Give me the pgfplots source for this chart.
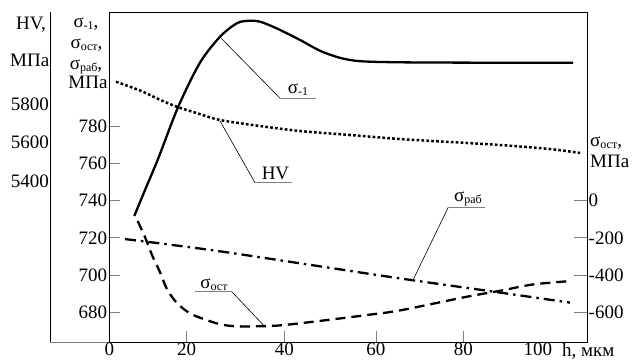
\documentclass[border=0pt]{standalone}
\usepackage{fontspec}
\setmainfont{Liberation Serif}
\usepackage{pgfplots}
\pgfplotsset{compat=1.18}
\newcommand\sub[1]{\raisebox{-2pt}{\fontsize{12}{12}\selectfont #1}}
\begin{document}
\fontsize{19}{22}\selectfont
\begin{tikzpicture}[x=1pt,y=1pt,font=\fontsize{19}{22}\selectfont]
% HV axis (left outer)
\begin{axis}[at={(50pt,17.7pt)}, anchor=south west, scale only axis,
  width=537pt, height=330.3pt,
  xmin=-13.477, xmax=108.57, ymin=4562, ymax=6278,
  axis x line*=bottom, axis y line*=left, axis line style={-, line width=0.8pt},
  x axis line style={gray},
  xtick=\empty, ytick={5400,5600,5800}, yticklabels={5400,5600,5800},
  major tick length=0pt, yticklabel style={inner sep=1pt},
  clip=false]
\addplot[black, line width=2.5pt, dash pattern=on 2.7pt off 2.2pt, smooth] coordinates {
(1.52,5915.8) (7.0,5870) (11.52,5822) (15.32,5786) (20.0,5752) (25.16,5717)
(34.25,5685.7) (43.34,5659.7) (54.7,5639) (66.07,5618) (77.43,5602.6)
(88.8,5587) (100.2,5566) (107,5545.5)};
\end{axis}
% main left axis
\begin{axis}[at={(109.3pt,17.7pt)}, anchor=south west, scale only axis,
  width=477.7pt, height=330.3pt,
  xmin=0, xmax=108.57, ymin=663.9, ymax=841.2,
  xtick={0,17.59,39.77,60.61,80.45}, xticklabels={0,20,40,60,80},
  extra x ticks={97.43}, extra x tick labels={100},
  extra x tick style={tick style={draw=none}},
  ytick={680,700,720,740,760,780}, yticklabels={680,700,720,740,760,780},
  xtick pos=bottom, ytick pos=left, tick align=inside, major tick length=11pt,
  tick style={gray, line width=0.8pt},
  axis line style={black, line width=0.8pt},
  yticklabel style={inner sep=2pt},
  xticklabel style={inner sep=0.8pt},
  clip=false]
% sigma_-1
\addplot[black, line width=2.3pt, smooth] coordinates {
(5.68,731.7) (8.11,745.6) (11.14,762.7) (15.68,790.4) (20.61,814.0) (25.16,827.9)
(28.95,835.1) (31.59,836.5) (34.25,836.0) (38.05,832.4) (43.34,826.2) (47.89,820.4)
(52.43,816.6) (56.98,814.8) (66.07,814.2) (84.25,814.0) (105.4,814.0)};
% sigma_rab
\addplot[black, line width=2.3pt, dash pattern=on 11pt off 5pt on 2.5pt off 5pt, smooth] coordinates {
(3.57,719.3) (11.52,717.0) (25.0,712.8) (43.34,706.3) (66.07,698.2) (88.8,690.6) (104.7,685.2)};
% leaders
\draw[black, line width=0.6pt] (axis cs:25.16,827.8) -- (axis cs:38.8,794.9);
\draw[gray, line width=0.8pt] (axis cs:38.8,794.9) -- (axis cs:46.98,794.9);
\node[anchor=base, inner sep=0] at (axis cs:42.9,797.6) {σ\sub{-1}};
\draw[black, line width=0.6pt] (axis cs:25.16,782.7) -- (axis cs:33.11,749.6);
\draw[gray, line width=0.8pt] (axis cs:33.11,749.6) -- (axis cs:41.45,749.6);
\node[anchor=base, inner sep=0] at (axis cs:37.77,751.2) {HV};
\draw[black, line width=0.6pt] (axis cs:69.02,697.3) -- (axis cs:77.05,736.4);
\draw[gray, line width=0.8pt] (axis cs:77.05,736.4) -- (axis cs:85.39,736.4);
\node[anchor=base, inner sep=0] at (axis cs:81.5,739.4) {σ\sub{раб}};
\draw[black, line width=0.6pt] (axis cs:35.0,673.2) -- (axis cs:27.82,691.1);
\draw[gray, line width=0.8pt] (axis cs:27.82,691.1) -- (axis cs:19.48,691.1);
\node[anchor=base, inner sep=0] at (axis cs:23.8,692.9) {σ\sub{ост}};
\end{axis}
% right axis
\begin{axis}[at={(109.3pt,17.7pt)}, anchor=south west, scale only axis,
  width=477.7pt, height=330.3pt,
  xmin=0, xmax=108.57, ymin=-760, ymax=1010,
  axis x line=none, axis y line*=right, axis line style={-, black, line width=0.8pt},
  ytick={-600,-400,-200,0}, yticklabels={-600,-400,-200,0},
  tick align=inside, major tick length=13pt, tick style={gray, line width=0.8pt},
  yticklabel style={inner sep=1.5pt},
  clip=false]
\addplot[black, line width=2.3pt, dash pattern=on 10pt off 6pt, smooth] coordinates {
(6.45,-110) (8.11,-196) (9.70,-292) (11.52,-384) (13.11,-475) (15.39,-550)
(18.34,-605) (21.52,-636) (25.16,-663) (28.57,-674) (34.25,-674) (39.48,-668)
(49.41,-641) (58.5,-614) (66.07,-589) (81.23,-516) (88.8,-484) (96.3,-450) (104.7,-432)};
\end{axis}
% axis titles
\node[anchor=base] at (31,330.7) {HV,};
\node[anchor=base] at (29.7,293.3) {МПа};
\node[anchor=base] at (86,333) {σ\sub{-1},};
\node[anchor=base] at (86.5,311.5) {σ\sub{ост},};
\node[anchor=base] at (86,290.5) {σ\sub{раб},};
\node[anchor=base] at (88,271.7) {МПа};
\node[anchor=base west, inner sep=0] at (590,213.3) {σ\sub{ост},};
\node[anchor=base west, inner sep=0] at (590,192.3) {МПа};
\node[anchor=base west, inner sep=0] at (562,3.2) {h, мкм};
\pgfresetboundingbox
\path (0,0) rectangle (632,360);
\end{tikzpicture}
\end{document}
